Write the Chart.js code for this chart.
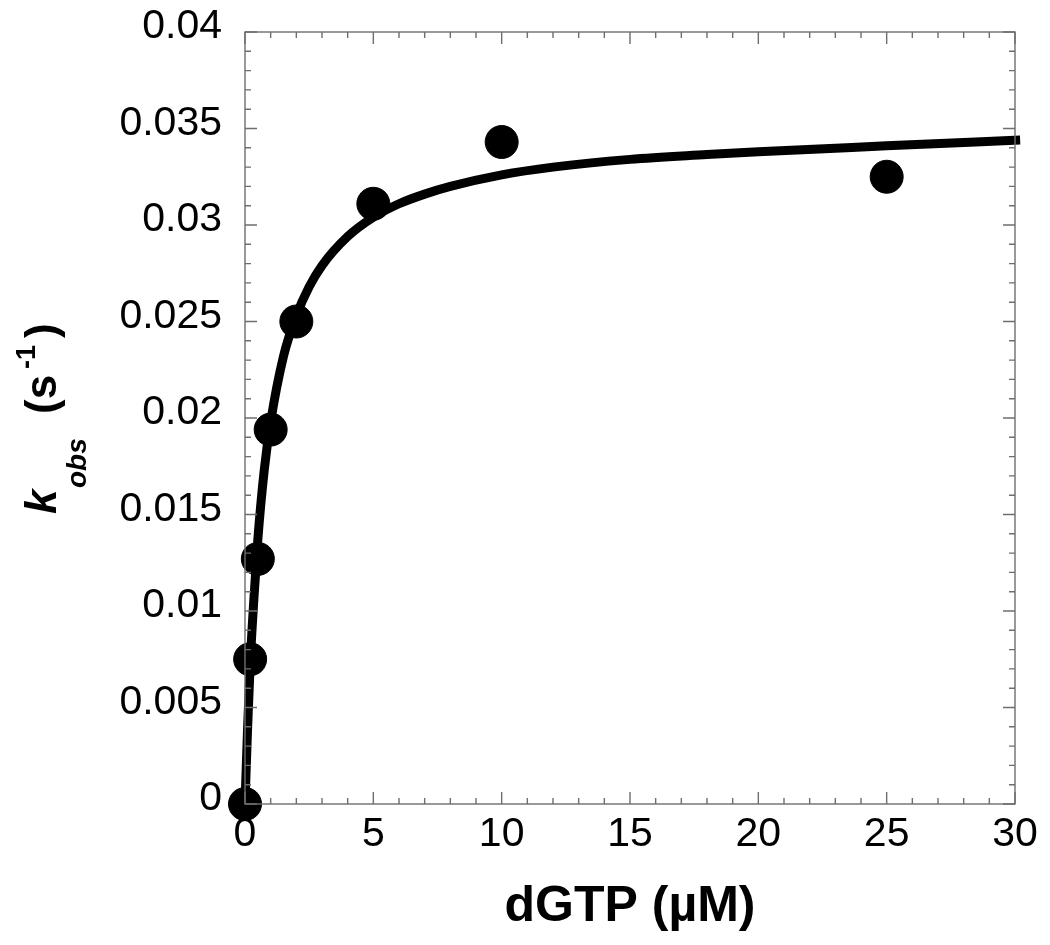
<!DOCTYPE html>
<html>
<head>
<meta charset="utf-8">
<script src="https://cdn.jsdelivr.net/npm/chart.js@4.4.1/dist/chart.umd.min.js"></script>
<style>
    html, body { margin: 0; padding: 0; background: #fff; }
    canvas { display: block; }
</style>
</head>
<body>
<canvas id="grafico" width="1050" height="945"></canvas>
<script>
    // pontos medidos
    const dgtp = [0, 0.2, 0.5, 1, 2, 5, 10, 25];
    const kobs = [0, 0.0075, 0.0127, 0.0194, 0.025, 0.0311, 0.0343, 0.0325];

    // curva ajustada
    const ajusteX = [0, 0.1, 0.2, 0.35, 0.5, 0.75, 1, 1.5, 2, 2.5, 3, 4, 5, 6, 7, 8, 10, 12, 15, 18, 20, 25, 30.2];
    const ajusteY = [0, 0.0039, 0.0072, 0.0107, 0.0137, 0.0173, 0.0198, 0.0232, 0.0253, 0.0268, 0.0279, 0.0294,
        0.0304, 0.0311, 0.0316, 0.032, 0.0326, 0.033, 0.0334, 0.03365, 0.0338, 0.0341, 0.0344];

    const xTicks = [0, 5, 10, 15, 20, 25, 30];
    const yTicks = [0, 0.005, 0.01, 0.015, 0.02, 0.025, 0.03, 0.035, 0.04];

    const FONTE = "'Liberation Sans', Arial, sans-serif";
    const COR_EIXO = '#6e6e6e';

    const moldura = {
        id: 'moldura',
        afterDraw(chart) {
            const { ctx, chartArea: a, scales: { x, y } } = chart;
            ctx.save();
            ctx.strokeStyle = COR_EIXO;
            ctx.lineWidth = 1.4;
            ctx.strokeRect(a.left, a.top, a.right - a.left, a.bottom - a.top);
            ctx.beginPath();
            for (let v = 0; v <= 30; v++) {
                const px = x.getPixelForValue(v);
                const len = v % 5 === 0 ? 12 : 6;
                ctx.moveTo(px, a.bottom); ctx.lineTo(px, a.bottom - len);
                ctx.moveTo(px, a.top); ctx.lineTo(px, a.top + len);
            }
            for (let i = 0; i <= 40; i++) {
                const py = y.getPixelForValue(i / 1000);
                const len = i % 5 === 0 ? 12 : 6;
                ctx.moveTo(a.left, py); ctx.lineTo(a.left + len, py);
                ctx.moveTo(a.right, py); ctx.lineTo(a.right - len, py);
            }
            ctx.stroke();
            ctx.restore();
        }
    };

    // titulo do eixo y com subscrito e sobrescrito (pos = distancia ao longo do texto)
    const tituloY = {
        id: 'tituloY',
        afterDraw(chart) {
            const { ctx, chartArea: a } = chart;
            const partes = [
                { t: 'k', f: 'italic bold 44px ' + FONTE, pos: 0, dy: 0 },
                { t: 'obs', f: 'italic bold 28px ' + FONTE, pos: 26, dy: 30 },
                { t: '(s', f: 'bold 44px ' + FONTE, pos: 100, dy: 0 },
                { t: '-1', f: 'bold 27px ' + FONTE, pos: 145, dy: -21 },
                { t: ')', f: 'bold 44px ' + FONTE, pos: 176, dy: 0 }
            ];
            ctx.save();
            const centro = (a.top + a.bottom) / 2;
            ctx.translate(56, centro + 96);
            ctx.rotate(-Math.PI / 2);
            ctx.fillStyle = '#000';
            ctx.textBaseline = 'alphabetic';
            ctx.textAlign = 'left';
            partes.forEach(p => {
                ctx.font = p.f;
                ctx.fillText(p.t, p.pos, p.dy);
            });
            ctx.restore();
        }
    };

    new Chart(document.getElementById('grafico'), {
        type: 'scatter',
        data: {
            datasets: [
                {
                    label: 'kobs',
                    data: dgtp.map((v, i) => ({ x: v, y: kobs[i] })),
                    backgroundColor: '#000',
                    borderColor: '#000',
                    pointRadius: 16.5,
                    pointHoverRadius: 16.5,
                    showLine: false,
                    clip: false,
                    order: 0
                },
                {
                    label: 'ajuste',
                    data: ajusteX.map((v, i) => ({ x: v, y: ajusteY[i] })),
                    borderColor: '#000',
                    borderWidth: 9,
                    pointRadius: 0,
                    showLine: true,
                    cubicInterpolationMode: 'monotone',
                    clip: false,
                    order: 1
                }
            ]
        },
        options: {
            responsive: false,
            animation: false,
            devicePixelRatio: 1,
            layout: { padding: { left: 0, top: 32, right: 35, bottom: 0 } },
            plugins: {
                legend: { display: false },
                tooltip: { enabled: false }
            },
            scales: {
                x: {
                    type: 'linear',
                    min: 0,
                    max: 30,
                    afterBuildTicks: (s) => { s.ticks = xTicks.map(v => ({ value: v })); },
                    afterFit: (s) => { s.height = 141; s.paddingLeft = 0; s.paddingRight = 0; },
                    grid: { display: false, drawTicks: false },
                    border: { display: false },
                    ticks: {
                        color: '#000',
                        padding: 6,
                        maxRotation: 0,
                        font: { family: FONTE, size: 41 },
                        callback: (v) => String(v)
                    },
                    title: {
                        display: true,
                        text: 'dGTP (\u00b5M)',
                        color: '#000',
                        font: { family: FONTE, size: 50, weight: 'bold' },
                        padding: { top: 13, bottom: 8 }
                    }
                },
                y: {
                    type: 'linear',
                    min: 0,
                    max: 0.04,
                    afterBuildTicks: (s) => { s.ticks = yTicks.map(v => ({ value: v })); },
                    afterFit: (s) => { s.width = 245; s.paddingTop = 0; s.paddingBottom = 0; },
                    grid: { display: false, drawTicks: false },
                    border: { display: false },
                    ticks: {
                        color: '#000',
                        padding: 23,
                        labelOffset: -5,
                        font: { family: FONTE, size: 41 },
                        callback: (v) => String(+v.toFixed(3))
                    }
                }
            }
        },
        plugins: [moldura, tituloY]
    });
</script>
</body>
</html>
